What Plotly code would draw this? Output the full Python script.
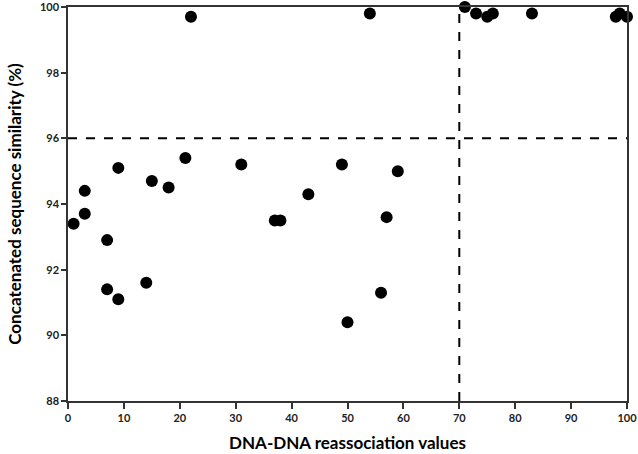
import plotly.graph_objects as go

ddh = [1, 3, 3, 7, 7, 9, 9, 14, 15, 18, 21, 22, 31, 37, 38, 43, 49, 50, 54, 56, 57, 59,
       71, 73, 75, 76, 83, 98, 98.7, 100]
similarity = [93.4, 93.7, 94.4, 92.9, 91.4, 91.1, 95.1, 91.6, 94.7, 94.5, 95.4, 99.7, 95.2,
              93.5, 93.5, 94.3, 95.2, 90.4, 99.8, 91.3, 93.6, 95.0,
              100.0, 99.8, 99.7, 99.8, 99.8, 99.7, 99.8, 99.7]
ddh_threshold = 70
sim_threshold = 96
x_ticks = [0, 10, 20, 30, 40, 50, 60, 70, 80, 90, 100]
y_ticks = [88, 90, 92, 94, 96, 98, 100]

fig = go.Figure()
fig.add_trace(go.Scatter(x=ddh, y=similarity, mode="markers",
                         marker=dict(color="black", size=12),
                         cliponaxis=False, showlegend=False))

fig.add_shape(type="line", x0=0, x1=100, y0=sim_threshold, y1=sim_threshold,
              xref="x", yref="y", line=dict(color="black", width=2, dash="dash"))
fig.add_shape(type="line", x0=ddh_threshold, x1=ddh_threshold, y0=88, y1=100,
              xref="x", yref="y", line=dict(color="black", width=2, dash="dash"))

font_family = "Lato"
fig.update_layout(
    width=638, height=454,
    margin=dict(l=68, r=11, t=7, b=53),
    plot_bgcolor="white", paper_bgcolor="white",
    font=dict(family=font_family, color="black"),
    xaxis=dict(range=[0, 100], tickvals=x_ticks, ticks="outside", ticklen=6,
               tickwidth=1.5, tickcolor="#333", showline=True, linecolor="#333",
               linewidth=1.5, mirror=True, showgrid=False, zeroline=False,
               automargin=False, ticklabeloverflow="allow",
               tickfont=dict(size=11, family=font_family, weight="bold", color="#222"),
               title=dict(text="<b>DNA-DNA reassociation values</b>",
                          font=dict(size=17, family=font_family), standoff=14)),
    yaxis=dict(range=[88, 100], tickvals=y_ticks, ticks="outside", ticklen=5,
               tickwidth=1.5, tickcolor="#333", showline=True, linecolor="#333",
               linewidth=1.5, mirror=True, showgrid=False, zeroline=False,
               automargin=False, ticklabeloverflow="allow",
               tickfont=dict(size=11, family=font_family, weight="bold", color="#222"),
               title=dict(text="<b>Concatenated sequence similarity (%)</b>",
                          font=dict(size=17, family=font_family), standoff=14)),
)
fig.write_html("out.html", config={"displayModeBar": False},
               post_script="document.body.style.margin='0';document.body.style.overflow='hidden';")
